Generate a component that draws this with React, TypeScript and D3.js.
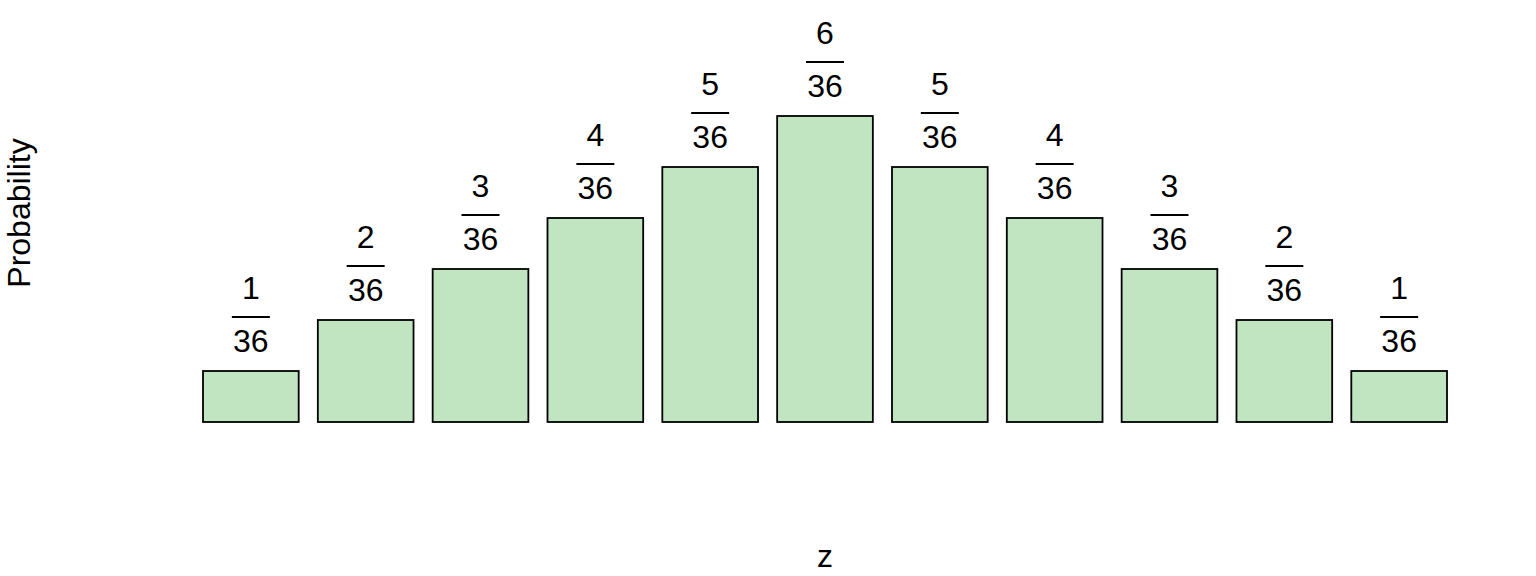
import * as d3 from 'd3';

const WIDTH = 1536;
const HEIGHT = 576;

// sums of two dice
const zValues = [2, 3, 4, 5, 6, 7, 8, 9, 10, 11, 12];
const counts = [1, 2, 3, 4, 5, 6, 5, 4, 3, 2, 1];
const denominator = 36;

const FONT = "'Liberation Sans', Arial, Helvetica, sans-serif";
const FS = 32;

export default function App() {
  const x = d3.scaleBand<number>()
    .domain(zValues)
    .range([203, 1447])
    .paddingInner(1 / 6)
    .paddingOuter(0);

  const y = d3.scaleLinear()
    .domain([0, 6 / denominator])
    .range([422, 116]);

  const bw = x.bandwidth();

  return (
    <svg
      width={WIDTH}
      height={HEIGHT}
      style={{ position: 'absolute', left: 0, top: 0, background: '#fff' }}
      fontFamily={FONT}
    >
      {zValues.map((z, i) => {
        const p = counts[i] / denominator;
        const x0 = x(z) ?? 0;
        const top = y(p);
        const cx = x0 + bw / 2;
        return (
          <g key={z}>
            <rect
              x={x0}
              y={top}
              width={bw}
              height={y(0) - top}
              fill="#c0e5c0"
              stroke="#000"
              strokeWidth={1.8}
            />
            {/* fraction label */}
            <text x={cx} y={top - 72} textAnchor="middle" fontSize={FS} fill="#000">
              {counts[i]}
            </text>
            <line x1={cx - 19} x2={cx + 19} y1={top - 54} y2={top - 54} stroke="#000" strokeWidth={2} />
            <text x={cx} y={top - 19} textAnchor="middle" fontSize={FS} fill="#000">
              {denominator}
            </text>
          </g>
        );
      })}

      <text x={825} y={567} textAnchor="middle" fontSize={FS} fill="#000">z</text>
      <text
        transform="translate(30,213) rotate(-90)"
        textAnchor="middle"
        fontSize={FS}
        fill="#000"
      >
        Probability
      </text>
    </svg>
  );
}
